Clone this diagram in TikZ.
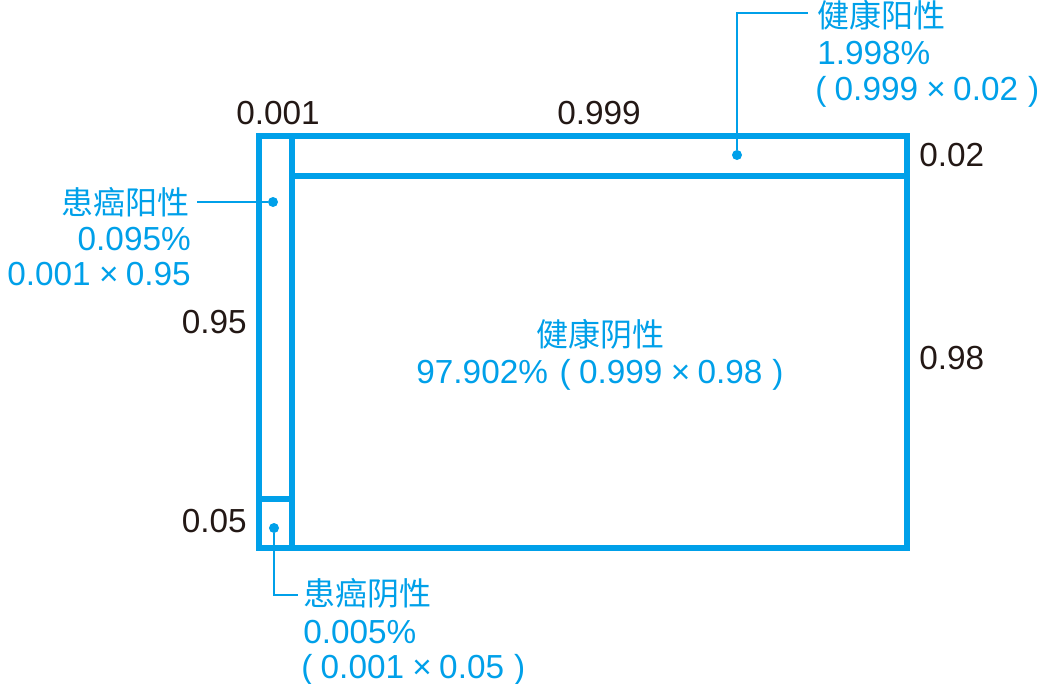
\documentclass[tikz,border=0pt]{standalone}
\usepackage{fontspec}
\setmainfont{Liberation Sans}
\newfontfamily\cjkfam{Noto Sans CJK SC}
\newcommand{\cjk}{\cjkfam\fontsize{24}{28}\selectfont}
\definecolor{bcyan}{HTML}{00A0E9}
\definecolor{ink}{HTML}{231815}
\newcommand{\tms}{\hspace{0.25em}×\hspace{0.22em}}
\newcommand{\lpar}{(\hspace{0.25em}}
\newcommand{\rpar}{\hspace{0.3em})}
\tikzset{
  frame/.style={draw=bcyan, line width=4.6pt},
  leader/.style={draw=bcyan, line width=1.1pt},
  dotmark/.style={circle, fill=bcyan, inner sep=0pt, minimum size=7.5pt},
  lbl/.style={text=bcyan, inner sep=0pt, font=\fontsize{25}{28}\selectfont},
  num/.style={text=ink, inner sep=0pt, font=\fontsize{25}{28}\selectfont},
}
\begin{document}
\begin{tikzpicture}[x=0.75pt,y=-0.75pt]
\useasboundingbox (0,0) rectangle (1043,683);
% frame
\draw[frame] (259,136) rectangle (907,548);
\draw[frame] (292,136) -- (292,548);
\draw[frame] (292,176) -- (907,176);
\draw[frame] (259,499) -- (292,499);
% dots
\node[dotmark] (dT) at (737,155) {};
\node[dotmark] (dL) at (273,202) {};
\node[dotmark] (dB) at (274,528) {};
% top right label
\node[lbl, anchor=base west] (t1) at (817,27) {\cjk 健康阳性};
\node[lbl, anchor=base west] (t2) at (817,64) {1.998\%};
\node[lbl, anchor=base west] (t3) at (815,100) {\lpar 0.999\tms 0.02\rpar};
\coordinate (tE) at (808,13);
\draw[leader] (dT) |- (tE);
% left label
\node[lbl, anchor=base east] (l1) at (190,214) {\cjk 患癌阳性};
\node[lbl, anchor=base east] (l2) at (191,250) {0.095\%};
\node[lbl, anchor=base east] (l3) at (191,285) {0.001\tms 0.95};
\coordinate (lE) at (197,202);
\draw[leader] (dL) -- (lE);
% bottom label
\node[lbl, anchor=base west] (b1) at (303,605) {\cjk 患癌阴性};
\node[lbl, anchor=base west] (b2) at (303,643) {0.005\%};
\node[lbl, anchor=base west] (b3) at (301,678) {\lpar 0.001\tms 0.05\rpar};
\coordinate (bE) at (298,595);
\draw[leader] (dB) |- (bE);
% center label
\node[lbl, anchor=base] (c1) at (600,346) {\cjk 健康阴性};
\node[lbl, anchor=base] (c2) at (600,383) {97.902\%\hspace{0.35em}\lpar 0.999\tms 0.98\rpar};
% numbers
\node[num, anchor=base] (n1) at (278,124) {0.001};
\node[num, anchor=base] (n2) at (599,124) {0.999};
\node[num, anchor=base west] (n3) at (919,166) {0.02};
\node[num, anchor=base west] (n4) at (919,369) {0.98};
\node[num, anchor=base east] (n5) at (247,333) {0.95};
\node[num, anchor=base east] (n6) at (247,532) {0.05};
\end{tikzpicture}
\end{document}
